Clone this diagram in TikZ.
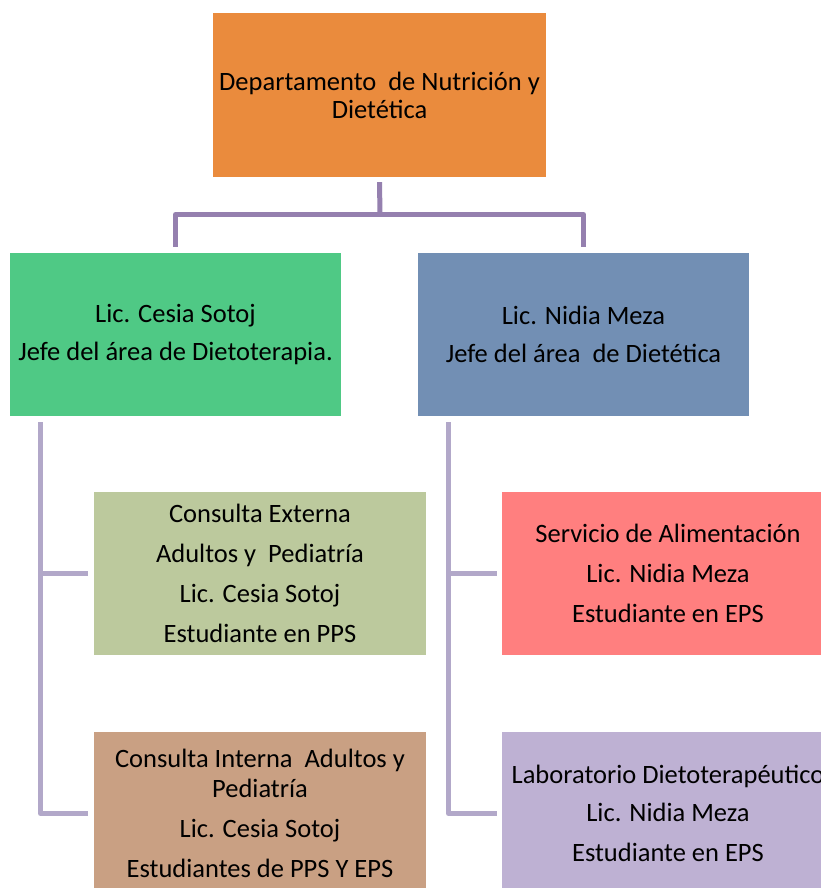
\documentclass[tikz,border=0pt]{standalone}
\usepackage{fontspec}
\setmainfont{Carlito}
\usetikzlibrary{calc}

\definecolor{naranja}{HTML}{EA8B3D}
\definecolor{verde}{HTML}{4FC985}
\definecolor{azul}{HTML}{728FB4}
\definecolor{verdeclaro}{HTML}{BCC99D}
\definecolor{cafe}{HTML}{C9A083}
\definecolor{salmon}{HTML}{FF7F7F}
\definecolor{lila}{HTML}{BEB1D3}
\definecolor{lineatop}{HTML}{9580AF}
\definecolor{linealado}{HTML}{B2A8C9}

\tikzset{
  caja/.style={shape=rectangle, inner sep=0pt, align=center, minimum width=332pt, minimum height=163pt, font=\fontsize{26.5}{40}\selectfont},
  enlace/.style={line width=5pt, lineatop, line join=round},
  rama/.style={line width=5pt, linealado, line join=round}
}

\begin{document}
\begin{tikzpicture}[x=1pt, y=-1pt]
	% Area and background:
	\useasboundingbox (0,0) rectangle (821,888);
	\fill[white] (0,0) rectangle (821,888);
	\clip (0,0) rectangle (821,888);
	% Boxes:
	\node[caja, fill=naranja, minimum width=333pt, minimum height=164pt] (depto) at (379.5, 95){Departamento \ de Nutrición y\\[-12pt]Dietética};
	\node[caja, fill=verde, minimum width=331pt] (jefa1) at (175.5, 334.5){Lic. Cesia Sotoj\\[-2pt]Jefe del área de Dietoterapia.};
	\node[caja, fill=azul, minimum width=331pt] (jefa2) at (583.5, 334.5){Lic. Nidia Meza\\[-2pt]Jefe del área \ de Dietética};
	\node[caja, fill=verdeclaro] (externa) at (260, 573.5){Consulta Externa\\Adultos y \ Pediatría\\Lic. Cesia Sotoj\\Estudiante en PPS};
	\node[caja, fill=cafe] (interna) at (260, 813.5){Consulta Interna \ Adultos y\\[-10pt]Pediatría\\Lic. Cesia Sotoj\\Estudiantes de PPS Y EPS};
	\node[caja, fill=salmon] (servicio) at (668, 573.5){Servicio de Alimentación\\Lic. Nidia Meza\\Estudiante en EPS};
	\node[caja, fill=lila] (labo) at (668, 813.5){Laboratorio Dietoterapéutico\\[-2pt]Lic. Nidia Meza\\Estudiante en EPS};
	% Connectors:
	\coordinate (cruce) at (380, 214.5);
	\coordinate (troncoA) at (40.5, 422);
	\coordinate (troncoB) at (448.5, 422);
	\draw[enlace] ([yshift=-5pt]depto.south) -- (cruce);
	\draw[enlace] ([yshift=6pt]jefa1.north) |- (cruce) -| ([yshift=6pt]jefa2.north);
	\draw[rama] (troncoA) |- ([xshift=-6pt]externa.west);
	\draw[rama] (troncoA) |- ([xshift=-6pt]interna.west);
	\draw[rama] (troncoB) |- ([xshift=-5pt]servicio.west);
	\draw[rama] (troncoB) |- ([xshift=-5pt]labo.west);
\end{tikzpicture}
\end{document}
